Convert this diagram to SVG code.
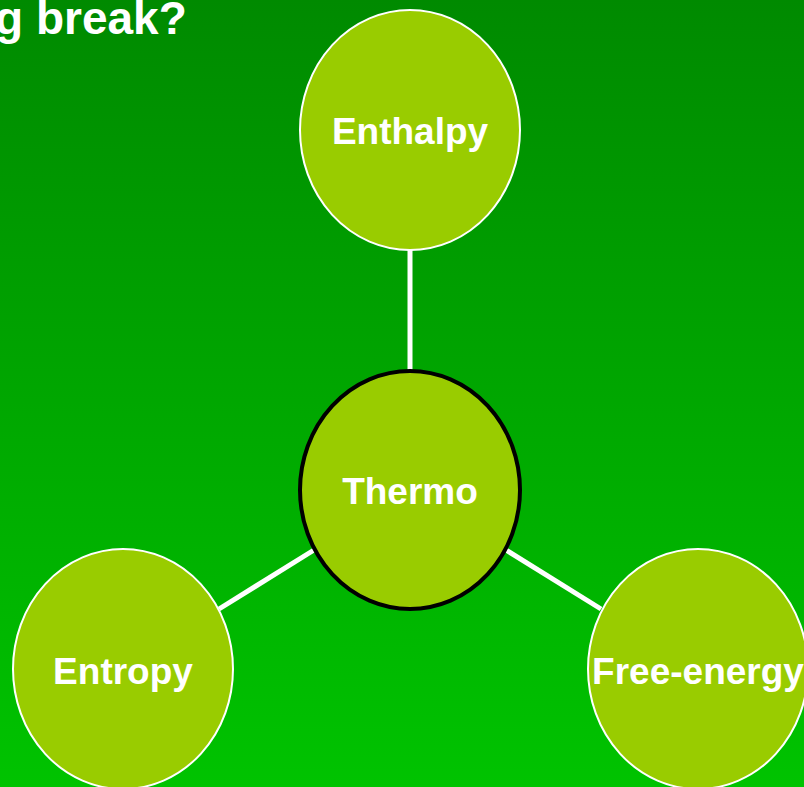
<svg xmlns="http://www.w3.org/2000/svg" width="804" height="787" viewBox="0 0 804 787">
<defs>
<linearGradient id="bg" x1="0" y1="0" x2="0" y2="1">
<stop offset="0" stop-color="#008a00"/>
<stop offset="1" stop-color="#00c300"/>
</linearGradient>
</defs>
<style>
.node{fill:#99cc00;stroke:#ffffff;stroke-width:2}
.center{fill:#99cc00;stroke:#000000;stroke-width:4}
.lbl{font-family:"Liberation Sans",Arial,sans-serif;font-weight:bold;font-size:37px;fill:#ffffff;text-anchor:middle}
.edge{stroke:#ffffff;stroke-width:5;fill:none}
</style>
<rect width="804" height="787" fill="url(#bg)"/>
<text x="-5" y="34" font-family="Liberation Sans, Arial, sans-serif" font-weight="bold" font-size="46" fill="#ffffff">g break?</text>
<g id="connectors">
<line class="edge" x1="410" y1="250" x2="410" y2="372"/>
<line class="edge" x1="314" y1="550" x2="219" y2="609"/>
<line class="edge" x1="506" y1="550" x2="601" y2="609"/>
</g>
<g id="enthalpy">
<ellipse class="node" cx="410" cy="130" rx="110" ry="120"/>
<text class="lbl" x="410" y="144">Enthalpy</text>
</g>
<g id="thermo">
<ellipse class="center" cx="410" cy="490" rx="110" ry="119"/>
<text class="lbl" x="410" y="504">Thermo</text>
</g>
<g id="entropy">
<ellipse class="node" cx="123" cy="669" rx="110" ry="120"/>
<text class="lbl" x="123" y="684">Entropy</text>
</g>
<g id="free-energy">
<ellipse class="node" cx="698" cy="669" rx="110" ry="120"/>
<text class="lbl" x="698" y="684">Free-energy</text>
</g>
</svg>
